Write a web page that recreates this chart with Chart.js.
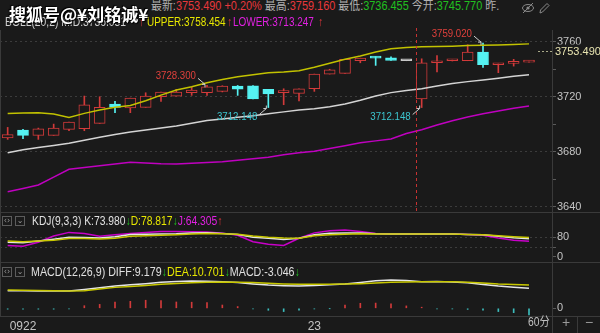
<!DOCTYPE html>
<html>
<head>
<meta charset="utf-8">
<script src="https://cdn.jsdelivr.net/npm/chart.js@4.4.1/dist/chart.umd.min.js"></script>
<style>
  html, body { margin: 0; padding: 0; background: #1a1a1a; }
  #wrap { position: relative; width: 600px; height: 333px; overflow: hidden; background: #1a1a1a;
          font-family: "Liberation Sans", "Noto Sans CJK SC", sans-serif; }
  .box { position: absolute; left: 0; width: 600px; }
  .t { position: absolute; white-space: nowrap; font-size: 12px; line-height: 14px; z-index: 4;
       transform-origin: left center; transform: scaleX(0.86); }
  .r1 { font-size: 12px; line-height: 13px; top: 0; transform: scaleX(0.91); }
  .g { color: #b0b0b0; } .rd { color: #e8383c; } .gr { color: #20c020; }
  .ln { position: absolute; background: #3a3a3a; z-index: 3; }
  .btn { position: absolute; width: 8px; height: 8px; border: 1px solid #5c5c5c; color: #9a9a9a;
         font-size: 8px; line-height: 8px; text-align: center; z-index: 4; font-family: "DejaVu Sans", sans-serif; }
</style>
</head>
<body>
<div id="wrap">
  <div class="box" style="top:28px;height:183px"><canvas id="mainChart"></canvas></div>
  <div class="box" style="top:213px;height:49px"><canvas id="kdjChart"></canvas></div>
  <div class="box" style="top:262px;height:71px"><canvas id="macdChart"></canvas></div>

  <!-- header row 1 -->
  <div style="position:absolute;left:552px;top:0;width:48px;height:37px;background:#1a1a1a;z-index:2"></div>
  <div class="t r1" style="left:151px"><span class="g">最新:</span><span class="rd">3753.490 +0.20%</span> <span class="g">最高:</span><span class="rd">3759.160</span> <span class="g">最低:</span><span class="gr">3736.455</span> <span class="g">今开:</span><span class="gr">3745.770</span> <span class="g">昨.</span></div>
  <svg style="position:absolute;left:522px;top:2px;z-index:4" width="28" height="12">
    <ellipse cx="6" cy="6" rx="5.5" ry="3.5" fill="none" stroke="#8a8a8a" stroke-width="1"/>
    <circle cx="6" cy="6" r="1.6" fill="#8a8a8a"/>
    <line x1="1" y1="11" x2="11" y2="1" stroke="#8a8a8a" stroke-width="1"/>
    <path d="M18 11 L18.5 8 L25 1.5 L27 3.5 L20.5 10 Z" fill="none" stroke="#8a8a8a" stroke-width="1"/>
  </svg>

  <!-- header row 2 -->
  <div class="t" style="left:5px;top:15px;color:#d0d0d0">BOLL(20,2) MID:3736.031</div>
  <div class="t" style="left:139px;top:15px;color:#e8383c">↑</div>
  <div class="t" style="left:147px;top:15px;color:#e6e600;transform:scaleX(0.83)">UPPER:3758.454</div>
  <div class="t" style="left:227px;top:15px;color:#e8383c">↑</div>
  <div class="t" style="left:233px;top:15px;color:#e020e0;transform:scaleX(0.83)">LOWER:3713.247</div>
  <div class="t" style="left:318px;top:15px;color:#e8383c">↑</div>
  <div class="t" style="left:9px;top:4px;font-size:17px;line-height:20px;font-weight:bold;color:#ffffff;z-index:5;
       transform:none;font-family:'Noto Sans CJK SC',sans-serif;text-shadow:1px 1px 1px #000,-1px -1px 1px #000">搜狐号@¥刘铭诚¥</div>

  <!-- KDJ header -->
  <div class="btn" style="left:2px;top:216px">‹›</div>
  <div class="btn" style="left:15px;top:216px">⌄</div>
  <div class="t" style="left:32px;top:214px">
    <span style="color:#e0e0e0">KDJ(9,3,3) K:73.980</span><span style="color:#20c020">↓</span><span style="color:#e6e600">D:78.817</span><span style="color:#20c020">↓</span><span style="color:#e020e0">J:64.305</span><span style="color:#e8383c">↑</span>
  </div>

  <!-- MACD header -->
  <div class="btn" style="left:2px;top:267px">‹›</div>
  <div class="btn" style="left:15px;top:267px">⌄</div>
  <div class="t" style="left:31px;top:265px;transform:scaleX(0.89)">
    <span style="color:#e0e0e0">MACD(12,26,9) DIFF:9.179</span><span style="color:#20c020">↓</span><span style="color:#e6e600">DEA:10.701</span><span style="color:#20c020">↓</span><span style="color:#e0e0e0">MACD:-3.046</span><span style="color:#20c020">↓</span>
  </div>

  <!-- bottom right controls -->
  <div class="t" style="left:528px;top:315px;color:#c0c0c0">60分</div>
  <div class="t" style="left:562px;top:315px;color:#9a9a9a;font-size:14px;transform:none">+</div>
  <div class="t" style="left:585px;top:315px;color:#9a9a9a;font-size:14px;transform:none">−</div>

  <!-- panel separators -->
  <div class="ln" style="left:0;top:212px;width:600px;height:1px"></div>
  <div class="ln" style="left:0;top:262px;width:600px;height:1px"></div>
  <div class="ln" style="left:0;top:316px;width:600px;height:1px"></div>
  <div class="ln" style="left:552px;top:30px;width:1px;height:303px"></div>
  <div class="ln" style="left:0;top:30px;width:1px;height:286px"></div>
  <div class="ln" style="left:577px;top:316px;width:1px;height:17px"></div>
</div>

<script>
// time axis (36 slots, last one empty)
const xLabels = ['', '0922', '', '', '', '', '', '', '', '', '', '', '', '', '', '', '', '', '', '',
  '23', '', '', '', '', '', '', '', '', '', '', '', '', '', '', ''];

// 60 min candles
const openP = [3690.0, 3695.8, 3691.9, 3691.9, 3696.3, 3696.7, 3700.6, 3714.7, 3711.8, 3712.3,
  3720.0, 3720.5, 3722.9, 3722.9, 3723.9, 3727.8, 3728.0, 3725.4, 3723.0, 3722.5,
  3725.8, 3736.5, 3737.0, 3746.2, 3748.5, 3748.3, 3746.2, 3718.5, 3744.7, 3746.2,
  3746.2, 3752.5, 3743.3, 3744.3, 3745.2];
const closeP = [3692.4, 3691.9, 3696.7, 3697.2, 3701.6, 3714.2, 3712.3, 3712.3, 3719.0, 3720.5,
  3723.4, 3723.4, 3724.9, 3727.3, 3727.8, 3725.6, 3718.5, 3722.0, 3723.3, 3725.8,
  3736.5, 3739.6, 3747.2, 3748.1, 3748.1, 3746.4, 3746.2, 3744.7, 3746.2, 3746.7,
  3752.5, 3743.3, 3744.3, 3745.2, 3746.2];
const highP = [3697.7, 3696.3, 3697.2, 3700.1, 3701.6, 3720.5, 3720.0, 3716.6, 3719.0, 3722.9,
  3723.4, 3725.4, 3726.8, 3728.3, 3728.0, 3728.2, 3728.1, 3725.4, 3725.8, 3725.8,
  3736.5, 3740.0, 3747.2, 3748.1, 3749.1, 3749.1, 3746.2, 3747.6, 3750.0, 3747.0,
  3757.8, 3759.02, 3744.3, 3747.2, 3746.2];
const lowP = [3689.0, 3689.5, 3689.0, 3691.9, 3695.3, 3695.3, 3700.6, 3708.4, 3708.4, 3712.3,
  3716.6, 3720.5, 3721.0, 3721.0, 3723.5, 3721.0, 3718.5, 3712.148, 3714.2, 3717.0,
  3723.9, 3736.5, 3737.0, 3744.7, 3742.8, 3746.4, 3746.2, 3712.148, 3738.0, 3746.0,
  3746.2, 3741.4, 3737.5, 3742.3, 3745.2];

// BOLL(20,2)
const upperB = [3707.9, 3708.2, 3708.4, 3707.4, 3705.0, 3707.9, 3710.3, 3712.3, 3713.7, 3717.1,
  3721.2, 3724.9, 3727.3, 3730.2, 3732.6, 3734.5, 3736.0, 3737.5, 3738.0, 3738.9,
  3741.4, 3744.3, 3747.2, 3749.6, 3752.5, 3754.9, 3755.9, 3756.4, 3756.6, 3756.8,
  3757.2, 3757.4, 3757.6, 3758.0, 3758.454];
const midB = [3679.3, 3681.5, 3683.0, 3684.6, 3686.1, 3688.3, 3690.5, 3692.5, 3694.3, 3695.8,
  3697.2, 3698.8, 3700.8, 3702.7, 3703.8, 3705.0, 3706.1, 3707.6, 3709.0, 3710.3,
  3711.3, 3712.8, 3714.8, 3717.5, 3720.6, 3723.0, 3724.6, 3725.8, 3727.8, 3729.7,
  3731.0, 3732.2, 3733.5, 3734.9, 3736.031];
const lowerB = [3650.9, 3653.3, 3655.8, 3661.5, 3667.2, 3668.5, 3669.8, 3671.1, 3672.4, 3671.9,
  3671.3, 3671.1, 3671.6, 3672.1, 3672.8, 3673.8, 3674.9, 3676.0, 3677.8, 3679.3,
  3680.4, 3682.4, 3684.4, 3686.5, 3687.9, 3689.3, 3693.2, 3696.0, 3699.5, 3702.5,
  3705.3, 3707.7, 3709.6, 3711.6, 3713.247];

// KDJ(9,3,3)
const kLine = [60, 58, 65, 72, 80, 79, 76.7, 82, 91, 92, 93, 94, 97, 98.7, 95, 91, 80, 76, 71, 76,
  90, 96, 98, 97.7, 94, 93.3, 93.3, 93.3, 93.3, 93.3, 91, 90, 84, 78, 73.98];
const dLine = [65.3, 62, 65, 68, 75.3, 75, 73.3, 76, 84.3, 86, 88, 90, 93, 95.3, 94, 92, 85.3, 80, 77, 76,
  86, 90, 92, 94, 93.5, 93.3, 93.3, 93.3, 93.3, 93.3, 91, 90, 86, 82, 78.817];
const jLine = [46.7, 43.5, 60, 85, 100, 95, 84.3, 90, 95.3, 100, 104, 104, 103, 102, 97, 88, 62, 52, 46.7, 76,
  98, 107, 110, 104, 95, 93.3, 93.3, 93.3, 93.3, 93.3, 91, 88, 77, 68, 64.305];

// MACD(12,26,9)
const diffLine = [8.1, 8.0, 7.9, 7.9, 7.9, 8.6, 9.4, 10.2, 10.8, 11.3, 11.9, 12.3, 12.5, 12.4, 12.2, 11.8,
  11.2, 10.7, 10.4, 10.2, 10.5, 10.8, 11.1, 11.8, 12.6, 13.0, 12.7, 12.2, 12.3, 12.1, 11.7, 10.9,
  10.2, 9.7, 9.179];
const deaLine = [8.4, 8.3, 8.2, 8.1, 7.9, 8.1, 8.8, 9.6, 10.0, 10.5, 11.0, 11.4, 11.7, 11.9, 12.1, 12.0,
  11.8, 11.5, 11.2, 11.0, 11.0, 11.0, 11.1, 11.3, 11.6, 11.9, 12.1, 12.2, 12.2, 12.2, 12.0, 11.6,
  11.1, 10.9, 10.701];
const macdBar = [-0.4, -0.4, -0.4, -0.4, -0.3, 1.2, 1.8, 2.9, 3.2, 3.7, 3.5, 2.9, 2.8, 2.6, 1.5, 0.8,
  -0.3, -0.9, -1.5, -0.8, -0.3, -0.1, 1.5, 2.3, 2.4, 2.0, 1.1, 0.5, -0.2, -0.3, -0.5, -0.8,
  -1.5, -2.0, -3.046];

// axis ticks
const priceTicks = [3640, 3660, 3680, 3700, 3720, 3740, 3760];
const kdjTicks = [0, 40, 80];
const macdTicks = [0];

const lastPrice = 3753.490;
const dayBreak = 27;           // first candle of the 23rd session
const peakMarks = [{ i: 13, up: true }, { i: 17, up: false }, { i: 27, up: false }, { i: 31, up: true }];

const BG = '#1a1a1a';
const RED = '#d23a3a';
const CYAN = '#55f2f2';
const FONT = "'Liberation Sans', Arial, sans-serif";

Chart.defaults.animation = false;
Chart.defaults.events = [];
Chart.defaults.font.family = FONT;
Chart.defaults.font.size = 11;
Chart.defaults.plugins.legend.display = false;
Chart.defaults.plugins.tooltip.enabled = false;

const candleColor = i => closeP[i] > openP[i] ? RED : (closeP[i] < openP[i] ? CYAN : '#c8c8c8');

function rightAxis(min, max, ticks, showLabel, showGrid) {
  return {
    position: 'right', min, max,
    afterBuildTicks: s => { s.ticks = ticks.map(v => ({ value: v })); },
    afterFit: s => { s.width = 48; s.paddingTop = 0; s.paddingBottom = 0; },
    border: { display: false, dash: [2, 3] },
    grid: {
      color: c => (c.tick && showGrid(c.tick.value)) ? '#3c3c3c' : 'rgba(0,0,0,0)',
      tickColor: '#5a5a5a', tickLength: 4, lineWidth: 1
    },
    ticks: { color: '#c4c4c4', padding: 1, autoSkip: false, callback: v => showLabel(v) ? String(v) : '' }
  };
}

const hiddenX = { display: false, offset: true, grid: { offset: true } };

const line = (data, color, w) => ({
  type: 'line', data, borderColor: color, borderWidth: w || 1.5, pointRadius: 0, tension: 0, order: 0
});

const markPlugin = {
  id: 'marks',
  afterDatasetsDraw(chart) {
    const { ctx, chartArea, scales: { x, y } } = chart;
    ctx.save();
    // session separator
    const sx = Math.round(x.getPixelForValue(dayBreak) - 6) + 0.5;
    ctx.strokeStyle = '#c83232';
    ctx.lineWidth = 1;
    ctx.setLineDash([3, 3]);
    ctx.beginPath(); ctx.moveTo(sx, 0); ctx.lineTo(sx, chartArea.bottom); ctx.stroke();
    ctx.setLineDash([]);

    // high / low labels
    ctx.font = '11px ' + FONT;
    ctx.textAlign = 'right';
    ctx.textBaseline = 'middle';
    peakMarks.forEach(m => {
      const v = m.up ? highP[m.i] : lowP[m.i];
      const px = x.getPixelForValue(m.i);
      const py = y.getPixelForValue(v);
      const s = m.up ? -1 : 1;
      ctx.fillStyle = m.up ? '#e0403c' : '#3cc6d0';
      ctx.save();
      ctx.translate(px - 11, py + s * 9);
      ctx.scale(0.88, 1);
      ctx.fillText(v.toFixed(3), 0, 0);
      ctx.restore();
      const x1 = px - 9, y1 = py + s * 7, x2 = px - 2, y2 = py + s * 1;
      ctx.strokeStyle = '#cfcfcf';
      ctx.beginPath(); ctx.moveTo(x1, y1); ctx.lineTo(x2, y2); ctx.stroke();
      ctx.beginPath();
      ctx.moveTo(x2 - 3, y2); ctx.lineTo(x2, y2); ctx.lineTo(x2, y2 - s * 3);
      ctx.stroke();
    });

    // last price marker
    const ly = Math.round(y.getPixelForValue(lastPrice)) + 0.5;
    ctx.strokeStyle = '#a8a888';
    ctx.setLineDash([2, 2]);
    ctx.beginPath(); ctx.moveTo(538, ly); ctx.lineTo(chartArea.right, ly); ctx.stroke();
    ctx.setLineDash([]);
    ctx.fillStyle = BG;
    ctx.fillRect(chartArea.right + 2, ly - 7, 46, 14);
    ctx.fillStyle = '#e8e4b0';
    ctx.textAlign = 'left';
    ctx.fillText(lastPrice.toFixed(3), chartArea.right + 3, ly);
    ctx.restore();
  }
};

new Chart(document.getElementById('mainChart'), {
  type: 'bar',
  data: {
    labels: xLabels,
    datasets: [
      line(upperB, '#c2c200'),
      line(midB, '#d4d4d4'),
      line(lowerB, '#c000c0'),
      {
        data: lowP.map((l, i) => [l, highP[i]]),
        backgroundColor: openP.map((o, i) => candleColor(i)),
        barThickness: 1, grouped: false, order: 2
      },
      {
        data: openP.map((o, i) => [o, closeP[i]]),
        backgroundColor: openP.map((o, i) => closeP[i] > o ? BG : candleColor(i)),
        borderColor: openP.map((o, i) => candleColor(i)),
        borderWidth: 1, borderSkipped: false, barThickness: 11, grouped: false, order: 1, minBarLength: 2
      }
    ]
  },
  options: {
    responsive: true,
    maintainAspectRatio: false,
    layout: { padding: 0 },
    scales: {
      x: hiddenX,
      y: rightAxis(3636.9, 3770.0, priceTicks, v => v % 40 === 0, v => v % 40 === 0)
    }
  },
  plugins: [markPlugin]
});

new Chart(document.getElementById('kdjChart'), {
  type: 'line',
  data: {
    labels: xLabels,
    datasets: [
      line(dLine, '#c8c800'),
      line(kLine, '#e6e6e6'),
      line(jLine, '#c800c8')
    ]
  },
  options: {
    responsive: true,
    maintainAspectRatio: false,
    layout: { padding: 0 },
    scales: {
      x: hiddenX,
      y: rightAxis(-20.4, 178.8, kdjTicks, v => v !== 40, v => v !== 0)
    }
  }
});

new Chart(document.getElementById('macdChart'), {
  type: 'bar',
  data: {
    labels: xLabels,
    datasets: [
      line(deaLine, '#c8c800'),
      line(diffLine, '#e6e6e6'),
      {
        data: macdBar,
        backgroundColor: macdBar.map(v => v >= 0 ? RED : '#3cbcbc'),
        barThickness: 1, order: 1
      }
    ]
  },
  options: {
    responsive: true,
    maintainAspectRatio: false,
    layout: { padding: 0 },
    scales: {
      x: {
        offset: true,
        afterFit: s => { s.height = 17; s.paddingLeft = 0; s.paddingRight = 0; },
        border: { display: false },
        grid: { display: false, drawTicks: false },
        ticks: {
          color: '#c4c4c4', padding: 3, autoSkip: false, maxRotation: 0,
          font: { size: 12 },
          callback: (v, i) => xLabels[i]
        }
      },
      y: rightAxis(-3.53, 21.24, macdTicks, () => true, () => false)
    }
  }
});
</script>
</body>
</html>
